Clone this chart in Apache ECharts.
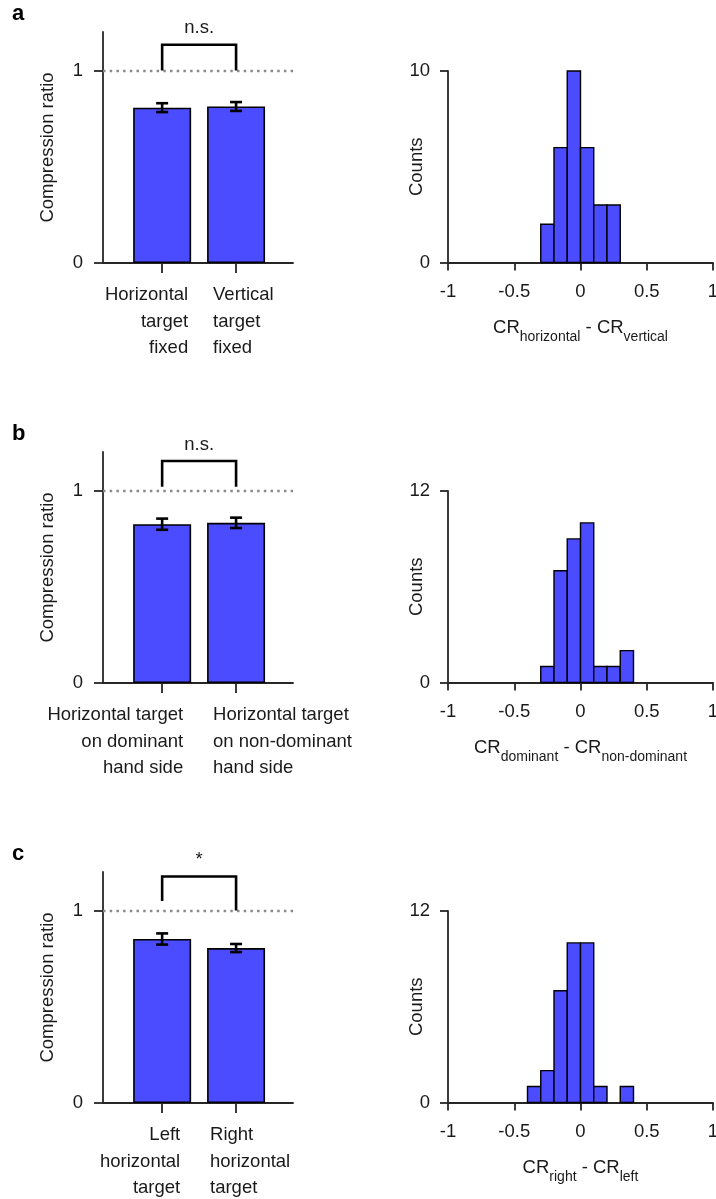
<!DOCTYPE html>
<html><head><meta charset="utf-8">
<script src="https://cdn.jsdelivr.net/npm/echarts@6/dist/echarts.min.js"></script>
<style>html,body{margin:0;padding:0;background:#fff}#c{width:716px;height:1199px}</style>
</head><body><div id="c"></div>
<script>
// ---------- DATA ----------
const panelLetters = ['a', 'b', 'c'];

const catLabelsA = ['Horizontal\ntarget\nfixed', 'Vertical\ntarget\nfixed'];
const catLabelsB = ['Horizontal target\non dominant\nhand side', 'Horizontal target\non non-dominant\nhand side'];
const catLabelsC = ['Left\nhorizontal\ntarget', 'Right\nhorizontal\ntarget'];

const catPos = [1, 2];
const meansA = [0.807, 0.813];
const errsA = [0.023, 0.023];
const meansB = [0.825, 0.832];
const errsB = [0.029, 0.027];
const meansC = [0.852, 0.805];
const errsC = [0.029, 0.021];

// bracket: [x1, x2, yTop, yLeftEnd, yRightEnd]
const bracketA = [1, 2, 1.134, 1.0, 1.0];
const bracketB = [1, 2, 1.153, 1.02, 1.02];
const bracketC = [1, 2, 1.177, 1.05, 1.0];
const sigLabels = ['n.s.', 'n.s.', '*'];

const refLevel = 1;
const leftYTicks = [0, 1];

// histograms (bin left edges, counts)
const binWidth = 0.1;
const histBinsA = [-0.3, -0.2, -0.1, 0, 0.1, 0.2];
const histCountsA = [2, 6, 10, 6, 3, 3];
const histBinsB = [-0.3, -0.2, -0.1, 0, 0.1, 0.2, 0.3];
const histCountsB = [1, 7, 9, 10, 1, 1, 2];
const histBinsC = [-0.4, -0.3, -0.2, -0.1, 0, 0.1, 0.2, 0.3];
const histCountsC = [1, 2, 7, 10, 10, 1, 0, 1];
const histYMax = [10, 12, 12];
const histNames = [
  ['horizontal', 'vertical'],
  ['dominant', 'non-dominant'],
  ['right', 'left']
];

// ---------- LAYOUT / STYLE ----------
const FONT = '"Liberation Sans", Arial, sans-serif';
const TXT = '#1a1a1a';
const AX = '#262626';
const BLUE = '#4b4bff';
const FS = 18.5;
const panelTops = [0, 420, 840];
const labelPosList = [[0.338, 2.703], [0.27, 2.703], [0.23, 2.662]];

const panels = [
  {cats: catLabelsA, means: meansA, errs: errsA, bracket: bracketA, bins: histBinsA, counts: histCountsA},
  {cats: catLabelsB, means: meansB, errs: errsB, bracket: bracketB, bins: histBinsB, counts: histCountsB},
  {cats: catLabelsC, means: meansC, errs: errsC, bracket: bracketC, bins: histBinsC, counts: histCountsC}
];

const grid = [], xAxis = [], yAxis = [], series = [], title = [];
const axLine = {show: true, onZero: false, lineStyle: {color: AX, width: 1.8}};
const tickStyle = {color: AX, width: 1.8};
const txtStyle = {fontFamily: FONT, fontSize: FS, color: TXT};

panels.forEach((p, i) => {
  const t = panelTops[i];
  title.push({text: panelLetters[i], left: 12, top: t + 3, padding: 0,
    textStyle: {fontSize: 22, fontWeight: 'bold', fontFamily: FONT, color: '#000'}});

  // left bar panel
  const gL = grid.length;
  grid.push({left: 103, width: 190, top: t + 32, height: 231, outerBoundsMode: 'none', containLabel: false});
  const lp = labelPosList[i];
  xAxis.push({gridIndex: gL, type: 'value', min: 0.2, max: 2.77,
    axisLine: axLine, splitLine: {show: false},
    axisTick: {show: true, length: 10, lineStyle: tickStyle, customValues: catPos},
    axisLabel: {show: true, customValues: lp, margin: 19,
      formatter: (v) => {
        const k = Math.abs(v - lp[0]) < Math.abs(v - lp[1]) ? 0 : 1;
        return '{' + (k ? 'r' : 'l') + '|' + p.cats[k] + '}';
      },
      rich: {
        l: Object.assign({width: 150, align: 'right', lineHeight: 26.5}, txtStyle),
        r: Object.assign({width: 150, align: 'left', lineHeight: 26.5}, txtStyle)
      }
    }
  });
  yAxis.push({gridIndex: gL, type: 'value', min: 0, max: 1.2,
    axisLine: axLine, splitLine: {show: false},
    axisTick: {show: true, length: 9, lineStyle: tickStyle, customValues: leftYTicks},
    axisLabel: Object.assign({show: true, margin: 20, customValues: leftYTicks}, txtStyle),
    name: 'Compression ratio', nameLocation: 'middle', nameGap: 46, nameRotate: 90,
    nameMoveOverlap: false,
    nameTextStyle: txtStyle
  });
  series.push({type: 'bar', xAxisIndex: gL, yAxisIndex: gL,
    data: catPos.map((x, j) => [x, p.means[j]]), barWidth: 58,
    itemStyle: {color: BLUE, borderColor: '#000', borderWidth: 1.6},
    silent: true,
    markLine: {silent: true, symbol: ['none', 'none'], label: {show: false},
      lineStyle: {type: [2.5, 4.2], color: '#8a8a8a', width: 2.4},
      data: [{yAxis: refLevel}]}
  });
  series.push({type: 'custom', xAxisIndex: gL, yAxisIndex: gL, silent: true, z: 5,
    data: catPos.map((x, j) => [x, p.means[j], p.errs[j]]),
    encode: {x: 0, y: 1},
    renderItem: (params, api) => {
      const x = api.value(0), m = api.value(1), e = api.value(2);
      const lo = api.coord([x, m - e]), hi = api.coord([x, m + e]);
      const hw = 6;
      const st = {stroke: '#000', lineWidth: 2.6};
      return {type: 'group', children: [
        {type: 'line', shape: {x1: lo[0], y1: lo[1], x2: hi[0], y2: hi[1]}, style: st},
        {type: 'line', shape: {x1: lo[0] - hw, y1: lo[1], x2: lo[0] + hw, y2: lo[1]}, style: st},
        {type: 'line', shape: {x1: hi[0] - hw, y1: hi[1], x2: hi[0] + hw, y2: hi[1]}, style: st}
      ]};
    }
  });
  series.push({type: 'custom', xAxisIndex: gL, yAxisIndex: gL, silent: true, z: 5,
    data: [p.bracket], encode: {x: [0, 1], y: 2},
    renderItem: (params, api) => {
      const x1 = api.value(0), x2 = api.value(1), yt = api.value(2), yl = api.value(3), yr = api.value(4);
      const a = api.coord([x1, yl]), b = api.coord([x1, yt]), c = api.coord([x2, yt]), d = api.coord([x2, yr]);
      return {type: 'group', children: [
        {type: 'polyline', shape: {points: [a, b, c, d]}, style: {stroke: '#000', lineWidth: 2.6, fill: null}},
        {type: 'text', x: (b[0] + c[0]) / 2, y: b[1] - 7,
          style: {text: sigLabels[i], fontFamily: FONT, fontSize: FS, fill: TXT, align: 'center', verticalAlign: 'bottom'}}
      ]};
    }
  });

  // histogram panel
  const gH = grid.length;
  grid.push({left: 448, width: 265, top: t + 71, height: 191.5, outerBoundsMode: 'none', containLabel: false});
  const nm = histNames[i];
  xAxis.push({gridIndex: gH, type: 'value', min: -1, max: 1, interval: 0.5,
    axisLine: axLine, splitLine: {show: false},
    axisTick: {show: true, length: 8, lineStyle: tickStyle},
    axisLabel: Object.assign({show: true, margin: 20, formatter: (v) => String(v)}, txtStyle),
    name: '{m|CR}{s|' + nm[0] + '}{m| - CR}{s|' + nm[1] + '}',
    nameLocation: 'middle', nameGap: 56, nameMoveOverlap: false,
    nameTextStyle: {rich: {
      m: {fontFamily: FONT, fontSize: FS, color: TXT, lineHeight: 20, verticalAlign: 'top'},
      s: {fontFamily: FONT, fontSize: 14, color: TXT, lineHeight: 14, padding: [12, 0, 0, 0], verticalAlign: 'top'}
    }}
  });
  yAxis.push({gridIndex: gH, type: 'value', min: 0, max: histYMax[i], interval: histYMax[i],
    axisLine: axLine, splitLine: {show: false},
    axisTick: {show: true, length: 8, lineStyle: tickStyle},
    axisLabel: Object.assign({show: true, margin: 18}, txtStyle),
    name: 'Counts', nameLocation: 'middle', nameGap: 22, nameRotate: 90,
    nameMoveOverlap: false,
    nameTextStyle: txtStyle
  });
  series.push({type: 'custom', xAxisIndex: gH, yAxisIndex: gH, silent: true,
    data: p.bins.map((b, j) => [b, b + binWidth, p.counts[j]]),
    encode: {x: [0, 1], y: 2},
    renderItem: (params, api) => {
      const cnt = api.value(2);
      if (!cnt) return null;
      const a = api.coord([api.value(0), cnt]), b = api.coord([api.value(1), 0]);
      return {type: 'rect', shape: {x: a[0], y: a[1], width: b[0] - a[0], height: b[1] - a[1]},
        style: {fill: BLUE, stroke: '#000', lineWidth: 1.4}};
    }
  });
});

const chart = echarts.init(document.getElementById('c'), null, {renderer: 'canvas'});
chart.setOption({backgroundColor: '#fff', animation: false, title, grid, xAxis, yAxis, series});
</script></body></html>
